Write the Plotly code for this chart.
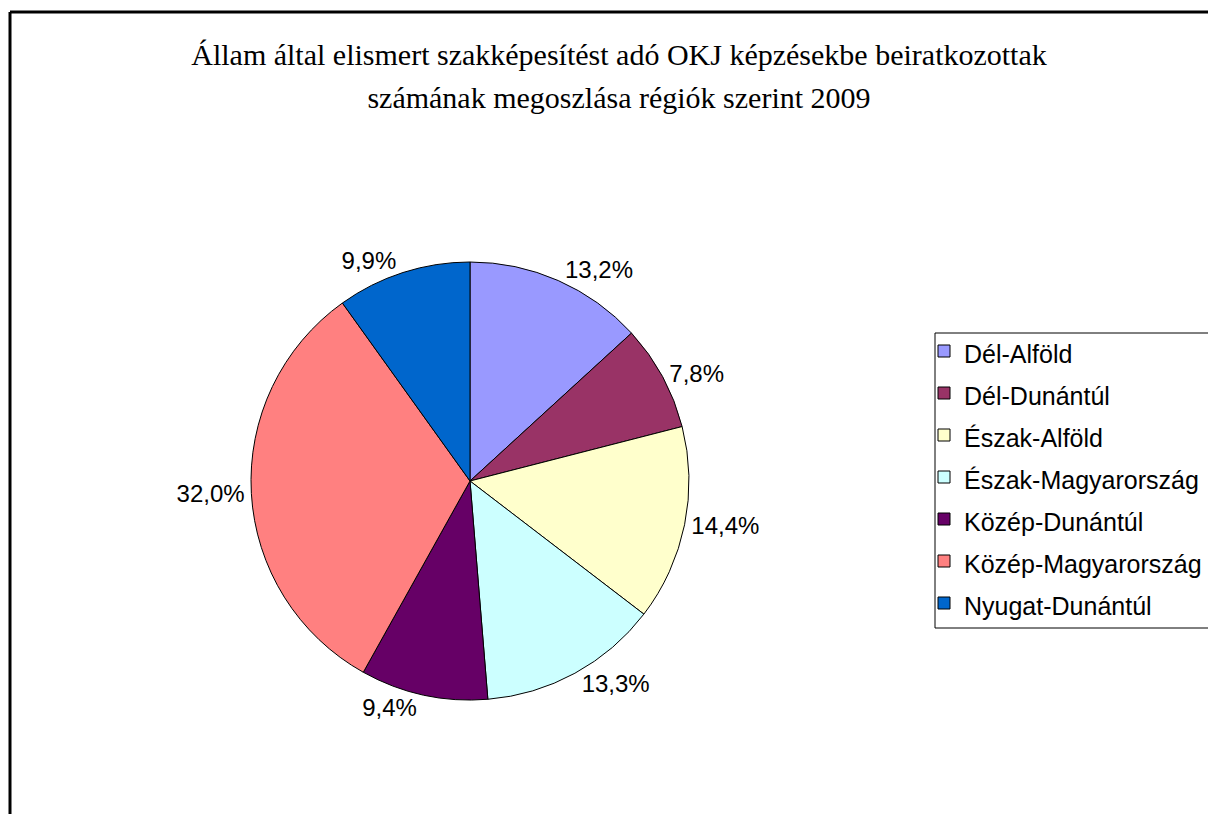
import plotly.graph_objects as go

# régiók és arányok (%)
regiok = ['Dél-Alföld', 'Dél-Dunántúl', 'Észak-Alföld', 'Észak-Magyarország',
          'Közép-Dunántúl', 'Közép-Magyarország', 'Nyugat-Dunántúl']
aranyok = [13.2, 7.8, 14.4, 13.3, 9.4, 32.0, 9.9]
szinek = ['#9999FF', '#993366', '#FFFFCC', '#CCFFFF', '#660066', '#FF8080', '#0066CC']

W, H = 1216, 814
cx, cy, r = 462, 473, 219   # a lap 8px-es margóját már levonva

fig = go.Figure()
fig.add_trace(go.Pie(
    labels=['<span style="font-size:25px">' + s + '</span>' for s in regiok],
    values=aranyok,
    sort=False,
    direction='clockwise',
    rotation=0,
    marker=dict(colors=szinek, line=dict(color='black', width=1)),
    texttemplate='%{percent:.1%}',
    textposition='outside',
    outsidetextfont=dict(family='Liberation Sans, Arial', size=24, color='black'),
    hoverinfo='label+percent',
    domain=dict(x=[(cx - r) / W, (cx + r) / W],
                y=[(H - cy - r) / H, (H - cy + r) / H]),
))

cim = ('<span style="font-size:30px">Állam által elismert szakképesítést adó OKJ képzésekbe beiratkozottak'
       '<br>számának megoszlása régiók szerint 2009</span>')


def vonal(x0, y0, x1, y1, w):
    return dict(type='line', xref='paper', yref='paper',
                x0=x0 / W, x1=x1 / W, y0=1 - y0 / H, y1=1 - y1 / H,
                line=dict(color='black', width=w))


fig.update_layout(
    width=W, height=H,
    margin=dict(l=0, r=0, t=0, b=0),
    paper_bgcolor='white',
    separators=',.',
    title=dict(text=cim, x=611 / W, xanchor='center', y=1 - 57 / H, yanchor='top',
               font=dict(family='Liberation Serif, Times New Roman', size=33, color='black')),
    legend=dict(x=916 / W, xanchor='left', y=1 - 317 / H, yanchor='top',
                font=dict(family='Liberation Sans, Arial', size=30, color='black'),
                bgcolor='rgba(0,0,0,0)', borderwidth=0),
    shapes=[
        # keret (fent és balra)
        vonal(2, 4, W + 20, 4, 3),
        vonal(2, 4, 2, H + 20, 3),
        # jelmagyarázat kerete
        vonal(927, 325, W + 20, 325, 1),
        vonal(927, 620, W + 20, 620, 1),
        vonal(927, 325, 927, 620, 1),
    ],
)

fig.write_html("out.html")
